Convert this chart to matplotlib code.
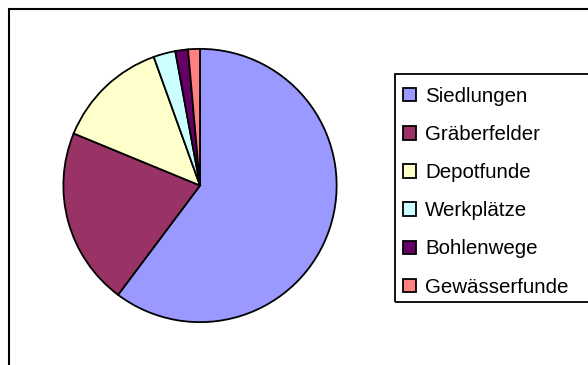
import matplotlib
matplotlib.use("Agg")
import matplotlib.pyplot as plt
from matplotlib.patches import Rectangle

plt.rcParams['font.family'] = ['Liberation Sans', 'DejaVu Sans']

# Anteile der Fundstellenkategorien (Prozent)
categories = ["Siedlungen", "Gräberfelder", "Depotfunde", "Werkplätze",
              "Bohlenwege", "Gewässerfunde"]
shares = [60.3, 21.0, 13.3, 2.6, 1.5, 1.4]
colors = ["#9999FF", "#993366", "#FFFFCC", "#CCFFFF", "#660066", "#FF8080"]

W, H = 588, 365
fig = plt.figure(figsize=(W / 100, H / 100), dpi=100)
fig.patch.set_facecolor("white")

# outer chart frame (only top/left edges fall inside the image)
fig.add_artist(Rectangle((9 / W, -0.05), 1.1, 1 - 9 / H + 0.05,
                         transform=fig.transFigure, fill=False,
                         edgecolor="black", linewidth=1.5))

# pie axes: centre (200, 185.5) px, radius 138 px
cx, cy, r = 200, 185.5, 138
ax = fig.add_axes([(cx - r) / W, (H - cy - r) / H, 2 * r / W, 2 * r / H])
wedges, _ = ax.pie(shares, colors=colors, startangle=90, counterclock=False,
                   radius=1.0,
                   wedgeprops=dict(edgecolor="black", linewidth=1.3))
ax.set_xlim(-1.01, 1.01)
ax.set_ylim(-1.01, 1.01)
ax.set_aspect("equal")
ax.axis("off")

# legend box frame, running off the right edge
fig.add_artist(Rectangle((395 / W, 1 - 302 / H), 0.5, 228 / H,
                         transform=fig.transFigure, fill=False,
                         edgecolor="black", linewidth=1.3))

leg = fig.legend(wedges, categories, loc="upper left",
                 bbox_to_anchor=(403 / W, 1 - 87 / H),
                 borderaxespad=0, borderpad=0, fontsize=14.8,
                 frameon=False,
                 handlelength=0.62, handleheight=0.62, handletextpad=0.45,
                 labelspacing=0.93)
for h in leg.legend_handles:
    h.set_edgecolor("black")
    h.set_linewidth(1.3)

fig.savefig("out.png", dpi=100, facecolor="white")
